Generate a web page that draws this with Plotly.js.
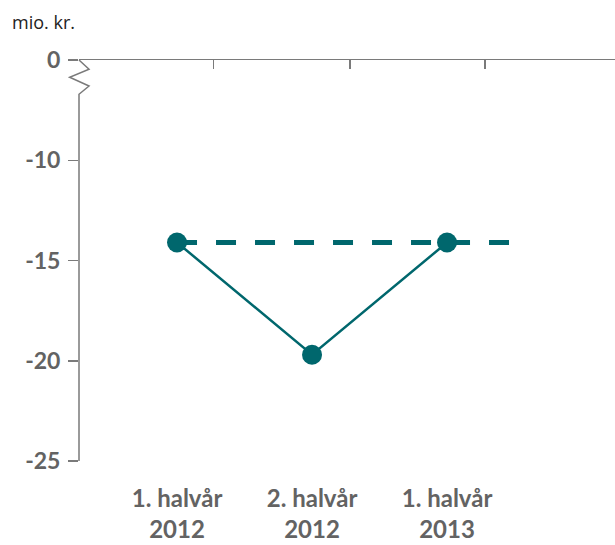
<!DOCTYPE html>
<html>
<head>
<meta charset="utf-8">
<script src="https://cdn.plot.ly/plotly-3.0.1.min.js"></script>
<style>html,body{margin:0;padding:0;background:#fff;}#chart{width:615px;height:545px;}</style>
</head>
<body>
<div id="chart"></div>
<script>
// ---- data ----
const categories = ['1. halvår<br>2012', '2. halvår<br>2012', '1. halvår<br>2013'];
const catIndex = [0, 1, 2];
const values = [-14.1, -19.7, -14.1];
const refLineX = [0, 2.5];
const refLineY = [-14.1, -14.1];
const yTickVals = [-5, -10, -15, -20, -25];
const yTickText = ['0', '-10', '-15', '-20', '-25'];
const topTickVals = [0.27, 1.28, 2.28];
const unitLabel = 'mio. kr.';

const teal = '#00676d';
const axisCol = '#7a7a7a';
const txtCol = '#636363';
const fam = 'Lato, "Open Sans", sans-serif';

const traces = [
  {x: refLineX, y: refLineY, type: 'scatter', mode: 'lines',
   line: {color: teal, width: 5, dash: '20px,19px'}, hoverinfo: 'skip', showlegend: false},
  {x: catIndex, y: values, type: 'scatter', mode: 'lines+markers',
   line: {color: teal, width: 2.5}, marker: {color: teal, size: 20},
   showlegend: false}
];

const layout = {
  width: 615, height: 545,
  margin: {l: 79, r: 0, t: 60, b: 84},
  paper_bgcolor: '#fff', plot_bgcolor: '#fff',
  showlegend: false,
  xaxis: {
    range: [-0.726, 3.244], tickvals: catIndex, ticktext: categories,
    showline: false, zeroline: false, showgrid: false, ticks: '',
    tickfont: {family: fam, size: 24, color: txtCol, weight: 'bold'},
    ticklabelstandoff: 21
  },
  xaxis2: {
    overlaying: 'x', side: 'top', anchor: 'y', matches: 'x',
    range: [-0.726, 3.244],
    showline: true, linecolor: axisCol, linewidth: 1.5,
    zeroline: false, showgrid: false,
    ticks: 'inside', ticklen: 9, tickcolor: axisCol, tickwidth: 1.5,
    tickvals: topTickVals, showticklabels: false
  },
  yaxis: {
    range: [-25, -5], tickvals: yTickVals, ticktext: yTickText,
    showline: false, zeroline: false, showgrid: false,
    ticks: 'outside', ticklen: 10, tickcolor: axisCol, tickwidth: 1.5,
    tickfont: {family: fam, size: 23, color: txtCol, weight: 'bold'},
    ticklabelstandoff: 3
  },
  shapes: [
    {type: 'path', xref: 'paper', yref: 'paper',
     path: 'M 0,1 L 0.0187,0.9768 L -0.0174,0.9569 L 0.0187,0.9352 L 0,0.9145 L 0,0',
     line: {color: axisCol, width: 1.5}}
  ],
  annotations: [
    {text: unitLabel, xref: 'paper', yref: 'paper', x: -0.128, y: 1.095,
     xanchor: 'left', yanchor: 'middle', showarrow: false,
     font: {family: '"Open Sans", sans-serif', size: 18, color: '#222'}}
  ]
};

// invisible trace to activate the top axis
traces.push({x: [0], y: [-25], xaxis: 'x2', yaxis: 'y', mode: 'markers',
  marker: {opacity: 0}, hoverinfo: 'skip', showlegend: false, type: 'scatter'});

Plotly.newPlot('chart', traces, layout, {displayModeBar: false, staticPlot: true});
</script>
</body>
</html>
